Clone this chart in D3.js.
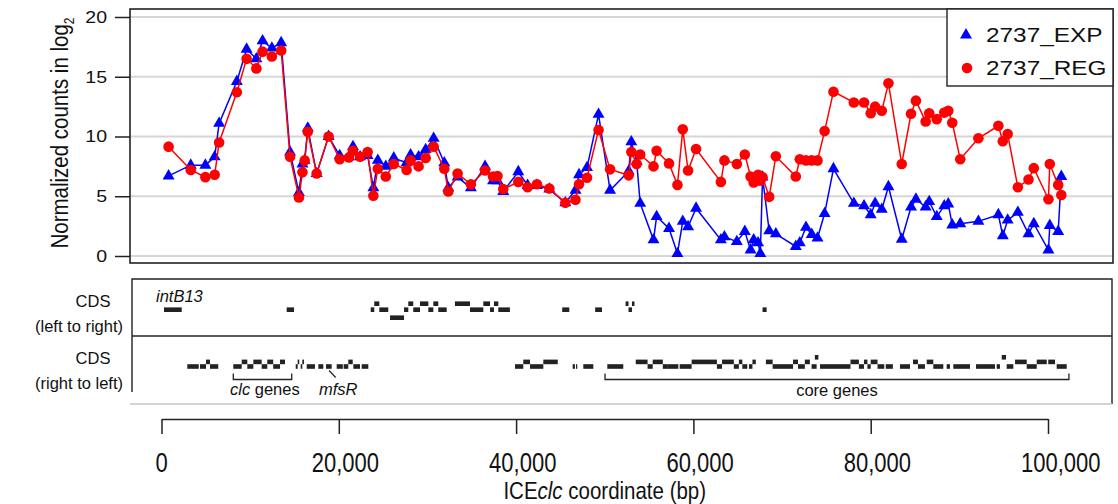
<!DOCTYPE html>
<html>
<head>
<meta charset="utf-8">
<script src="https://cdn.jsdelivr.net/npm/d3@7"></script>
<style>
  body { margin: 0; background: #fff; }
  text { font-family: "Liberation Sans", Arial, sans-serif; fill: #111; }
</style>
</head>
<body>
<div id="chart"></div>
<script>
// positions along ICEclc (kb), shared by both series
const positions = [0.8,3.3,4.95,6.0,6.5,8.5,9.6,10.7,11.4,12.45,13.5,14.5,15.5,15.9,16.15,16.5,17.5,18.85,20.1,21.15,
  21.6,22.4,23.25,23.9,24.4,25.3,26.2,27.65,28.1,29.0,29.8,30.7,31.9,32.35,33.4,34.9,36.5,37.4,37.9,38.55,
  40.25,41.3,42.35,43.75,45.55,46.7,47.1,48.0,49.3,50.6,52.7,53.0,53.6,54.0,55.5,55.85,57.25,58.2,58.8,59.4,
  60.3,63.1,63.5,64.9,65.8,66.45,66.8,67.3,67.55,67.8,68.55,69.3,71.55,72.0,72.7,73.35,74.0,74.8,75.8,78.1,
  79.25,80.0,80.5,81.25,82.0,83.5,84.55,85.1,86.2,86.6,87.45,88.3,88.75,89.2,90.1,92.15,94.4,94.9,95.45,96.6,
  97.8,98.4,100.05,100.2,101.15,101.5];
const expValues = [6.7,7.6,7.6,8.3,11.1,14.6,17.3,16.5,18.0,17.4,17.85,8.7,5.3,7.7,8.0,10.7,6.9,10.0,8.4,8.3,
  9.15,8.3,8.4,5.7,8.0,7.5,8.2,7.8,8.45,8.3,8.9,9.85,7.8,5.7,6.6,5.7,7.5,6.3,6.3,5.4,
  7.05,5.9,5.9,5.6,4.45,5.5,6.8,7.4,11.85,5.5,7.1,9.55,7.9,4.4,1.35,3.3,2.3,0.2,2.9,2.45,
  4.0,1.35,1.6,1.2,2.05,0.5,1.35,1.1,0.2,6.6,2.1,1.85,0.8,1.1,2.4,1.8,1.5,3.55,7.3,4.4,
  4.2,3.45,4.4,3.9,5.8,1.4,4.1,4.75,4.1,4.55,3.3,4.2,4.35,2.6,2.7,2.9,3.45,1.7,3.0,3.65,
  1.85,2.7,0.5,2.55,2.05,6.65];
const regValues = [9.15,7.2,6.6,6.8,9.5,13.7,16.5,15.7,17.1,16.7,17.2,8.3,4.9,7.0,8.0,10.4,6.9,10.0,8.1,8.25,
  8.8,8.3,8.7,5.05,7.3,6.65,7.7,7.2,8.0,7.5,8.2,9.15,7.3,5.4,6.9,6.0,7.15,6.65,6.7,5.6,
  6.2,5.75,6.0,5.65,4.45,4.7,6.0,6.55,10.55,7.25,6.75,8.7,7.7,8.5,7.5,8.8,7.75,5.95,10.6,7.15,
  8.95,6.2,8.0,7.7,8.5,6.65,6.15,6.8,6.3,6.6,4.95,8.35,6.65,8.1,8.0,8.0,8.0,10.45,13.75,12.85,
  12.85,11.95,12.5,12.15,14.45,7.7,11.9,13.0,11.25,11.95,11.45,12.0,12.15,11.15,8.1,9.85,10.9,9.6,10.2,5.75,
  6.4,7.35,4.75,7.7,5.95,5.1];
const seriesNames = ["2737_EXP", "2737_REG"];
const yTicks = [0, 5, 10, 15, 20];
const xTicks = [0, 20, 40, 60, 80, 100]; // kb

// CDS blocks: [start kb, end kb, row]  row 0 = main, 1 = up, -1 = down, 2 = up twice
const genesLeftToRight = [[0.28,2.28,0],[14.12,14.95,0],[23.6,24.0,0],[24.0,24.57,1],[24.57,25.58,0],[25.78,27.36,-1],
  [27.36,27.84,0],[27.84,28.4,1],[28.4,29.16,0],[29.16,30.1,1],[30.1,30.66,0],[30.66,31.22,1],[31.22,32.17,0],
  [33.1,34.8,1],[34.8,36.3,0],[36.3,37.06,1],[37.06,37.5,0],[37.5,37.99,1],[37.99,39.3,0],[45.2,46.0,0],
  [48.92,49.69,0],[52.35,52.68,1],[52.68,53.07,0],[53.07,53.35,1],[67.8,68.26,0]];
const genesRightToLeft = [[2.91,4.2,0],[4.34,5.02,0],[5.02,5.47,1],[5.47,6.4,0],[8.1,9.05,0],[9.05,9.68,1],[9.68,10.36,0],
  [10.36,11.3,1],[11.3,11.93,0],[11.93,12.6,1],[12.6,13.37,0],[13.37,13.93,1],[15.14,15.36,0],[15.36,15.54,1],
  [15.7,15.88,0],[15.88,16.07,1],[16.38,17.31,0],[17.69,18.25,0],[18.56,19.2,0],[19.76,20.45,0],[20.55,21.07,0],
  [21.07,21.57,1],[21.64,22.39,0],[22.58,23.33,0],[39.88,40.81,0],[40.81,41.57,1],[41.57,43.07,0],[43.07,44.7,1],
  [46.38,46.64,0],[46.76,46.9,0],[47.58,48.71,0],[50.29,52.09,0],[53.5,54.83,1],[54.83,55.41,0],[55.41,56.55,1],
  [56.55,57.12,0],[57.12,58.3,0],[58.45,59.8,0],[59.8,62.65,1],[62.65,63.23,0],[63.23,64.56,1],[64.56,65.13,0],
  [65.13,65.52,1],[65.52,66.08,0],[66.27,66.66,0],[66.66,67.04,1],[68.18,68.94,1],[68.94,71.24,0],[71.24,71.8,1],
  [71.8,72.57,0],[72.57,73.14,1],[73.33,73.9,0],[73.7,74.1,2],[74.28,77.72,0],[77.72,78.67,1],[78.67,79.24,0],
  [79.24,79.63,1],[79.63,80.0,0],[80.0,80.77,1],[80.77,81.53,0],[81.7,82.5,0],[83.3,84.43,0],[84.77,85.33,1],
  [85.33,86.12,0],[86.32,87.06,1],[87.06,88.19,0],[88.57,88.94,0],[89.32,91.2,0],[91.88,94.02,0],[94.21,94.58,0],
  [94.78,95.26,2],[95.34,96.09,0],[96.28,97.6,1],[97.6,98.73,0],[98.73,99.86,1],[100.03,100.79,1],[100.98,102.11,0]];
// brackets under the lower track: [start kb, end kb]
const clcBracket = [8.1, 14.69];
const coreBracket = [50.03, 102.36];

const width = 1118, height = 504;
const plot = {left: 130, right: 1113, top: 9, bottom: 263};
const cds = {left: 132, right: 1112, top: 279, mid: 336, bottom: 404};

let svg = d3.select("#chart")
  .append("svg")
  .attr("width", width)
  .attr("height", height)
  .attr("viewBox", [0, 0, width, height]);

let x = d3.scaleLinear().domain([0, 100]).range([161.5, 1048]);
let y = d3.scaleLinear().domain([0, 20]).range([256, 17]);

// grid lines
svg.append("g")
  .selectAll("line")
  .data(yTicks)
  .join("line")
  .attr("x1", plot.left).attr("x2", plot.right)
  .attr("y1", d => y(d)).attr("y2", d => y(d))
  .attr("stroke", "#d6d6d6")
  .attr("stroke-width", 2);

// y axis on the left of the box
const yAxis = g => g
  .attr("transform", `translate(${plot.left},0)`)
  .call(d3.axisLeft(y).tickValues(yTicks).tickSize(15).tickPadding(8))
  .call(g => g.select(".domain").remove())
  .call(g => g.selectAll(".tick line").attr("stroke", "#222").attr("stroke-width", 1.5))
  .call(g => g.selectAll(".tick text")
    .attr("font-size", 17)
    .attr("fill", "#111")
    .attr("transform", "scale(1.15,1)")
    .attr("x", -23 / 1.15));
svg.append("g").call(yAxis);

// y title, rotated
let yTitle = svg.append("text")
  .attr("transform", "translate(68,133) scale(1.15,1) rotate(-90)")
  .attr("text-anchor", "middle")
  .attr("font-size", 20.5);
yTitle.append("tspan").text("Normalized counts in log");
yTitle.append("tspan").attr("font-size", 12).attr("dy", 5).text("2");

// series lines and markers
const pts = (vals) => positions.map((p, i) => [p, vals[i]]);
const line = d3.line().x(d => x(d[0])).y(d => y(d[1]));

svg.append("path")
  .attr("d", line(pts(expValues)))
  .attr("fill", "none")
  .attr("stroke", "#0000ff")
  .attr("stroke-width", 1.5);
svg.append("g")
  .selectAll("path")
  .data(pts(expValues))
  .join("path")
  .attr("transform", d => `translate(${x(d[0])},${y(d[1])})`)
  .attr("d", d3.symbol(d3.symbolTriangle, 62))
  .attr("fill", "#0000ff");

svg.append("path")
  .attr("d", line(pts(regValues)))
  .attr("fill", "none")
  .attr("stroke", "#ff0000")
  .attr("stroke-width", 1.5);
svg.append("g")
  .selectAll("circle")
  .data(pts(regValues))
  .join("circle")
  .attr("cx", d => x(d[0]))
  .attr("cy", d => y(d[1]))
  .attr("r", 5.3)
  .attr("fill", "#ff0000");

// plot frame
svg.append("rect")
  .attr("x", plot.left).attr("y", plot.top)
  .attr("width", plot.right - plot.left).attr("height", plot.bottom - plot.top)
  .attr("fill", "none").attr("stroke", "#222").attr("stroke-width", 1.6);

// legend
let legend = svg.append("g");
legend.append("rect")
  .attr("x", 947).attr("y", plot.top)
  .attr("width", plot.right - 947).attr("height", 77)
  .attr("fill", "#fff").attr("stroke", "#222").attr("stroke-width", 1.4);
legend.append("path")
  .attr("transform", "translate(966,35)")
  .attr("d", d3.symbol(d3.symbolTriangle, 62))
  .attr("fill", "#0000ff");
legend.append("circle")
  .attr("cx", 967).attr("cy", 68).attr("r", 5.3)
  .attr("fill", "#ff0000");
legend.selectAll("text")
  .data(seriesNames)
  .join("text")
  .attr("transform", (d, i) => `translate(986,${42 + i * 33}) scale(1.16,1)`)
  .attr("font-size", 21)
  .text(d => d);

// CDS panel frame: dark sides, pale bottom edge
let cdsG = svg.append("g");
cdsG.append("path")
  .attr("d", `M${cds.left},392V${cds.top}H${cds.right}V${cds.bottom}`)
  .attr("fill", "none").attr("stroke", "#222").attr("stroke-width", 1.4);
cdsG.append("line")
  .attr("x1", cds.left - 2).attr("x2", cds.right)
  .attr("y1", cds.bottom).attr("y2", cds.bottom)
  .attr("stroke", "#c4c4c4").attr("stroke-width", 1.4);
cdsG.append("line")
  .attr("x1", cds.left).attr("x2", cds.right)
  .attr("y1", cds.mid).attr("y2", cds.mid)
  .attr("stroke", "#222").attr("stroke-width", 1.4);

// side labels: [text, x centre, baseline]
const cdsLabels = [["CDS", 93, 307], ["(left to right)", 79, 332], ["CDS", 93, 364], ["(right to left)", 79, 389]];
cdsG.selectAll("text.cdslab")
  .data(cdsLabels)
  .join("text")
  .attr("class", "cdslab")
  .attr("x", d => d[1]).attr("y", d => d[2])
  .attr("text-anchor", "middle")
  .attr("font-size", 16.5)
  .text(d => d[0]);

function drawTrack(genes, mainTop, step) {
  const offset = {"-1": 8, "0": 0, "1": -step, "2": -2 * step};
  cdsG.append("g")
    .selectAll("rect")
    .data(genes)
    .join("rect")
    .attr("x", d => x(d[0]))
    .attr("width", d => Math.max(1, x(d[1]) - x(d[0])))
    .attr("y", d => mainTop + offset[d[2]])
    .attr("height", 4.6)
    .attr("fill", "#222");
}
drawTrack(genesLeftToRight, 307.4, 6);
drawTrack(genesRightToLeft, 364.2, 4.6);

// brackets
function bracket(b) {
  cdsG.append("path")
    .attr("d", `M${x(b[0])},373.5V379.5H${x(b[1])}V373.5`)
    .attr("fill", "none").attr("stroke", "#222").attr("stroke-width", 1.3);
}
bracket(clcBracket);
bracket(coreBracket);
// leader line to mfsR
cdsG.append("line")
  .attr("x1", x(18.9)).attr("y1", 370.5)
  .attr("x2", x(19.65)).attr("y2", 377.5)
  .attr("stroke", "#222").attr("stroke-width", 1.2);

cdsG.append("text").attr("x", 156).attr("y", 302)
  .attr("font-size", 16.5).attr("font-style", "italic").text("intB13");
let clcT = cdsG.append("text").attr("x", 230).attr("y", 395).attr("font-size", 16.5);
clcT.append("tspan").attr("font-style", "italic").text("clc");
clcT.append("tspan").text(" genes");
cdsG.append("text").attr("x", 319).attr("y", 395)
  .attr("font-size", 16.5).attr("font-style", "italic").text("mfsR");
cdsG.append("text").attr("x", x((coreBracket[0] + coreBracket[1]) / 2)).attr("y", 396)
  .attr("text-anchor", "middle").attr("font-size", 16.5).text("core genes");

// bottom coordinate axis (labels drawn separately, they are a bit taller)
const xAxis = g => g
  .attr("transform", "translate(0,419)")
  .call(d3.axisBottom(x).tickValues(xTicks).tickSize(15).tickSizeOuter(0).tickFormat(""))
  .call(g => g.select(".domain").attr("stroke", "#222").attr("stroke-width", 1.5))
  .call(g => g.selectAll(".tick line").attr("stroke", "#222").attr("stroke-width", 1.5));
svg.append("g").call(xAxis);

svg.append("g")
  .selectAll("text")
  .data(xTicks)
  .join("text")
  .attr("transform", d => `translate(${d === 0 ? x(d) : x(d) - 27},472) scale(1,1.25)`)
  .attr("text-anchor", d => d === 0 ? "middle" : "start")
  .attr("font-size", 22)
  .text(d => d3.format(",")(d * 1000));

let xTitle = svg.append("text")
  .attr("transform", `translate(${(x(0) + x(100)) / 2},499) scale(1,1.2)`)
  .attr("text-anchor", "middle")
  .attr("font-size", 20.5);
xTitle.append("tspan").text("ICE");
xTitle.append("tspan").attr("font-style", "italic").text("clc");
xTitle.append("tspan").text(" coordinate (bp)");
</script>
</body>
</html>
